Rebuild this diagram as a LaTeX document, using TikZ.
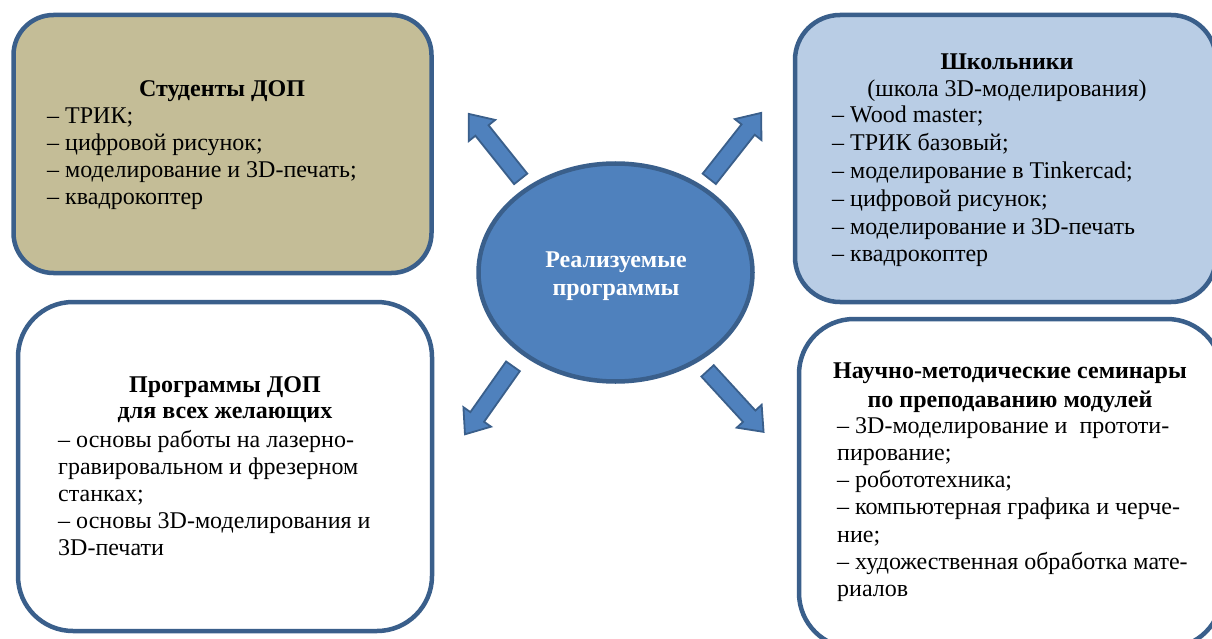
\documentclass[tikz,border=0pt]{standalone}
\usepackage{fontspec}
\setmainfont{LiberationSerif}[Extension=.ttf, UprightFont=*-Regular, BoldFont=*-Bold, ItalicFont=*-Italic, BoldItalicFont=*-BoldItalic]
\usetikzlibrary{shapes.geometric,shapes.arrows,calc}
\definecolor{bord}{HTML}{3A5F8B}
\definecolor{tanfill}{HTML}{C4BD97}
\definecolor{lblue}{HTML}{B9CDE5}
\definecolor{ellfill}{HTML}{4F81BD}
\newcommand\hdrtab[1]{\begin{tabular}[t]{@{}c@{}}#1\end{tabular}}
\newcommand\lsttab[1]{\begin{tabular}[t]{@{}l@{}}#1\end{tabular}}
\tikzset{
  box/.style={draw=bord, line width=4.5pt, rectangle, inner sep=0pt},
  hdr/.style={anchor=base, inner sep=0pt, font=\fontsize{24}{27}\selectfont},
  lst/.style={anchor=base west, inner sep=0pt, font=\fontsize{24}{27}\selectfont},
  barrow/.style={single arrow, draw=bord, fill=ellfill, line width=1.8pt,
    minimum width=32pt, single arrow head extend=8.5pt,
    single arrow tip angle=77, inner xsep=0pt, inner ysep=7.5pt},
}
\newcommand\blockarrow[3]{%
  \path let \p1=($(#3)-(#2)$), \n1={atan2(\y1,\x1)}, \n2={veclen(\x1,\y1)} in
    node[barrow, rotate=\n1, minimum height=\n2] (#1) at ($(#2)!0.5!(#3)$) {};}
\begin{document}
\begin{tikzpicture}[x=1pt,y=-1pt]
\useasboundingbox (0,0) rectangle (1212,639);
\clip (0,0) rectangle (1212,639);
\fill[white] (0,0) rectangle (1212,639);

% boxes
\node[box, fill=tanfill, rounded corners=40pt, minimum width=418pt, minimum height=258pt] (b1) at (222.5,144) {};
\node[box, fill=lblue, rounded corners=45pt, minimum width=421pt, minimum height=287pt] (b2) at (1005.5,158.5) {};
\node[box, fill=white, rounded corners=55pt, minimum width=414pt, minimum height=329pt] (b3) at (225,466.5) {};
\node[box, fill=white, rounded corners=55pt, minimum width=423pt, minimum height=329pt] (b4) at (1010.5,483.5) {};

% box texts
\node[hdr] (h1) at (222,97) {\hdrtab{\textbf{Студенты ДОП}}};
\node[lst] (l1) at (47,124) {\lsttab{– ТРИК;\\– цифровой рисунок;\\– моделирование и 3D-печать;\\– квадрокоптер}};

\node[hdr] (h2) at (1007,70) {\hdrtab{\textbf{Школьники}\\(школа 3D-моделирования)}};
\node[lst, font=\fontsize{24}{27.8}\selectfont] (l2) at (832,123) {\lsttab{– Wood master;\\– ТРИК базовый;\\– моделирование в Tinkercad;\\– цифровой рисунок;\\– моделирование и 3D-печать\\– квадрокоптер}};

\node[hdr, font=\fontsize{24}{26}\selectfont] (h3) at (225,392) {\hdrtab{\textbf{Программы ДОП}\\\textbf{для всех желающих}}};
\node[lst] (l3) at (58,447) {\lsttab{– основы работы на лазерно-\\гравировальном и фрезерном\\станках;\\– основы 3D-моделирования и\\3D-печати}};

\node[hdr, font=\fontsize{24}{29}\selectfont] (h4) at (1010,378) {\hdrtab{\textbf{Научно-методические семинары}\\\textbf{по преподаванию модулей}}};
\node[lst, font=\fontsize{24}{27.3}\selectfont] (l4) at (837,433) {\lsttab{– 3D-моделирование и~ прототи-\\пирование;\\– робототехника;\\– компьютерная графика и черче-\\ние;\\– художественная обработка мате-\\риалов}};

% centre ellipse
\node[ellipse, draw=bord, fill=ellfill, line width=4.5pt, minimum width=274pt, minimum height=218pt] (c) at (615.5,272.5) {};
\node[hdr, text=white, font=\fontsize{24}{28}\selectfont] (ct) at (616,267) {\hdrtab{\textbf{Реализуемые}\\\textbf{программы}}};

% arrows
\coordinate (t1) at (524,183); \coordinate (p1) at (472,118);
\coordinate (t2) at (706,183); \coordinate (p2) at (758,117);
\coordinate (t3) at (516,362); \coordinate (p3) at (468,430);
\coordinate (t4) at (704,367); \coordinate (p4) at (760,428);
\blockarrow{a1}{t1}{p1}
\blockarrow{a2}{t2}{p2}
\blockarrow{a3}{t3}{p3}
\blockarrow{a4}{t4}{p4}
\end{tikzpicture}
\end{document}
